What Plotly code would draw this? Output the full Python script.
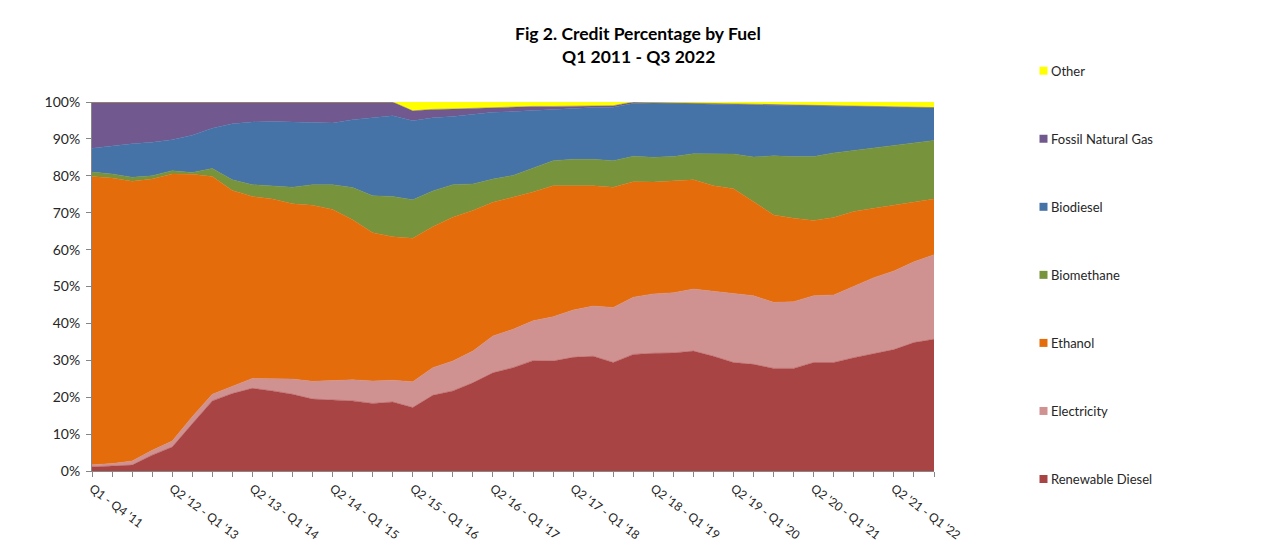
import plotly.graph_objects as go

categories = [
    "Q1 '12", "Q2 '12", "Q3 '12", "Q4 '12",
    "Q1 '13", "Q2 '13", "Q3 '13", "Q4 '13",
    "Q1 '14", "Q2 '14", "Q3 '14", "Q4 '14",
    "Q1 '15", "Q2 '15", "Q3 '15", "Q4 '15",
    "Q1 '16", "Q2 '16", "Q3 '16", "Q4 '16",
    "Q1 '17", "Q2 '17", "Q3 '17", "Q4 '17",
    "Q1 '18", "Q2 '18", "Q3 '18", "Q4 '18",
    "Q1 '19", "Q2 '19", "Q3 '19", "Q4 '19",
    "Q1 '20", "Q2 '20", "Q3 '20", "Q4 '20",
    "Q1 '21", "Q2 '21", "Q3 '21", "Q4 '21",
    "Q1 '22", "Q2 '22", "Q3 '22",
]

tick_labels = [
    "Q1 - Q4 '11", "Q2 '12 - Q1 '13", "Q2 '13 - Q1 '14", "Q2 '14 - Q1 '15",
    "Q2 '15 - Q1 '16", "Q2 '16 - Q1 '17", "Q2 '17 - Q1 '18", "Q2 '18 - Q1 '19",
    "Q2 '19 - Q1 '20", "Q2 '20 - Q1 '21", "Q2 '21 - Q1 '22",
]

renewable_diesel = [1.1, 1.3, 1.6, 4.3, 6.5, 12.8, 19.0, 21.0, 22.4, 21.7, 20.8, 19.5, 19.2, 19.0, 18.3,
                    18.7, 17.2, 20.5, 21.7, 23.9, 26.6, 28.0, 29.9, 29.8, 30.8, 31.1, 29.4, 31.6, 31.9,
                    32.0, 32.5, 31.1, 29.4, 28.9, 27.8, 27.8, 29.4, 29.4, 30.7, 31.9, 32.9, 34.8, 35.7]
electricity = [0.6, 0.7, 1.1, 1.3, 1.6, 1.9, 1.8, 2.0, 2.7, 3.3, 4.1, 4.8, 5.3, 5.7, 6.1,
               5.9, 7.0, 7.5, 8.1, 8.6, 10.0, 10.4, 10.8, 12.0, 12.8, 13.6, 14.9, 15.5, 16.1,
               16.3, 16.8, 17.7, 18.7, 18.6, 17.9, 18.1, 18.1, 18.3, 19.3, 20.5, 21.3, 21.9, 22.9]
ethanol = [78.1, 77.4, 75.8, 73.5, 72.4, 65.7, 59.0, 53.0, 49.3, 48.7, 47.5, 47.7, 46.4, 43.4, 40.2,
           38.9, 38.9, 38.2, 39.0, 38.1, 36.2, 35.8, 34.9, 35.5, 33.7, 32.6, 32.6, 31.3, 30.3,
           30.2, 29.6, 28.5, 28.4, 25.5, 23.7, 22.6, 20.4, 21.0, 20.3, 18.8, 17.9, 16.3, 15.1]
biomethane = [1.2, 1.1, 1.1, 0.9, 0.9, 0.5, 2.2, 2.9, 3.2, 3.6, 4.5, 5.6, 6.7, 8.7, 10.0,
              10.9, 10.4, 9.7, 8.8, 7.2, 6.3, 5.9, 6.5, 6.8, 7.2, 7.2, 7.2, 6.9, 6.7,
              6.7, 7.1, 8.7, 9.4, 12.1, 16.0, 16.7, 17.3, 17.5, 16.6, 16.5, 16.2, 16.0, 15.9]
biodiesel = [6.5, 7.7, 9.1, 9.1, 8.4, 10.1, 10.9, 15.2, 17.0, 17.4, 17.6, 16.7, 16.7, 18.4, 21.2,
             21.9, 21.4, 19.8, 18.5, 18.9, 18.1, 17.3, 15.6, 14.0, 13.8, 14.0, 14.5, 14.3, 14.7,
             14.5, 13.5, 13.4, 13.4, 14.1, 13.7, 13.8, 13.6, 12.5, 11.7, 10.9, 10.2, 9.5, 8.8]
fossil_natural_gas = [12.5, 11.8, 11.3, 10.9, 10.2, 9.0, 7.1, 5.9, 5.4, 5.3, 5.5, 5.7, 5.7, 4.8, 4.2,
                      3.7, 2.7, 2.3, 2.0, 1.6, 1.3, 1.2, 1.1, 0.7, 0.5, 0.4, 0.4, 0.4, 0.2,
                      0.1, 0.1, 0.1, 0.1, 0.1, 0.1, 0.1, 0.1, 0.1, 0.1, 0.1, 0.1, 0.1, 0.1]
other = [0, 0, 0, 0, 0, 0, 0, 0, 0, 0, 0, 0, 0, 0, 0,
         0, 2.4, 2.0, 1.9, 1.7, 1.5, 1.4, 1.2, 1.2, 1.2, 1.1, 1.0, 0.0, 0.1,
         0.2, 0.4, 0.5, 0.6, 0.7, 0.8, 0.9, 1.1, 1.2, 1.3, 1.3, 1.4, 1.4, 1.5]

series = [
    ("Renewable Diesel", renewable_diesel, "#A94444"),
    ("Electricity", electricity, "#D09191"),
    ("Ethanol", ethanol, "#E46C0A"),
    ("Biomethane", biomethane, "#77933C"),
    ("Biodiesel", biodiesel, "#4572A7"),
    ("Fossil Natural Gas", fossil_natural_gas, "#71588F"),
    ("Other", other, "#FFFF00"),
]

FONT = "Lato, 'Liberation Sans', Arial, sans-serif"
TEXT = "#262626"
AXIS = "#868686"

fig = go.Figure()
for name, vals, color in series:
    fig.add_trace(go.Scatter(
        x=categories, y=vals, name=name, mode="lines",
        stackgroup="fuel", groupnorm="percent",
        line=dict(width=0.5, color=color), fillcolor=color,
        showlegend=False, hoverinfo="x+y+name",
    ))

# page offset (browser body margin) and target plot area in screenshot pixels
OFF = 8
L, R, T, B = 92, 934, 102, 471
W, H = 1265 - OFF, 544 - OFF

def px_x(px):
    return (px - L) / (R - L)

def px_y(py):
    return (B - py) / (B - T)

shapes = []
annotations = []
legend_order = ["Other", "Fossil Natural Gas", "Biodiesel", "Biomethane",
                "Ethanol", "Electricity", "Renewable Diesel"]
colors = {n: c for n, _, c in series}
for k, name in enumerate(legend_order):
    cy = 70.7 + 68.05 * k
    shapes.append(dict(type="rect", xref="paper", yref="paper",
                       x0=px_x(1039.5), x1=px_x(1047.5),
                       y0=px_y(cy + 4), y1=px_y(cy - 4),
                       fillcolor=colors[name], line=dict(width=0)))
    annotations.append(dict(text=name, xref="paper", yref="paper",
                            x=px_x(1049), y=px_y(cy), xanchor="left", yanchor="middle",
                            showarrow=False, font=dict(family=FONT, size=13, color=TEXT)))

annotations.append(dict(text="<b>Fig 2. Credit Percentage by Fuel</b>", xref="paper", yref="paper",
                        x=px_x(638), y=px_y(33), xanchor="center", yanchor="middle",
                        showarrow=False, font=dict(family=FONT, size=17.5, color="#000000")))
annotations.append(dict(text="<b>Q1 2011 - Q3 2022</b>", xref="paper", yref="paper",
                        x=px_x(638), y=px_y(57), xanchor="center", yanchor="middle",
                        showarrow=False, font=dict(family=FONT, size=17.5, color="#000000")))

ticktext = []
for i, c in enumerate(categories):
    ticktext.append(tick_labels[i // 4] if i % 4 == 0 and i // 4 < len(tick_labels) else "")

fig.update_layout(
    width=W, height=H,
    margin=dict(l=L - OFF, r=W - (R - OFF), t=T - OFF, b=H - (B - OFF)),
    paper_bgcolor="white", plot_bgcolor="white",
    font=dict(family=FONT, size=13, color=TEXT),
    shapes=shapes, annotations=annotations,
    xaxis=dict(type="category", range=[0, len(categories) - 1], automargin=False,
               tickmode="array", tickvals=categories, ticktext=ticktext,
               tickangle=37, ticks="outside", ticklen=5, tickcolor=AXIS,
               showline=True, linecolor=AXIS, linewidth=1, showgrid=False,
               zeroline=False, tickfont=dict(family=FONT, size=12, color=TEXT)),
    yaxis=dict(range=[0, 100], tickmode="array", tickvals=list(range(0, 101, 10)),
               ticktext=[f"{v}%" for v in range(0, 101, 10)], automargin=False,
               ticks="outside", ticklen=5, tickcolor=AXIS, ticklabelstandoff=3,
               showline=True, linecolor=AXIS, linewidth=1, showgrid=False,
               zeroline=False, tickfont=dict(family=FONT, size=14, color=TEXT)),
    showlegend=False,
)

fig.write_html("out.html")
